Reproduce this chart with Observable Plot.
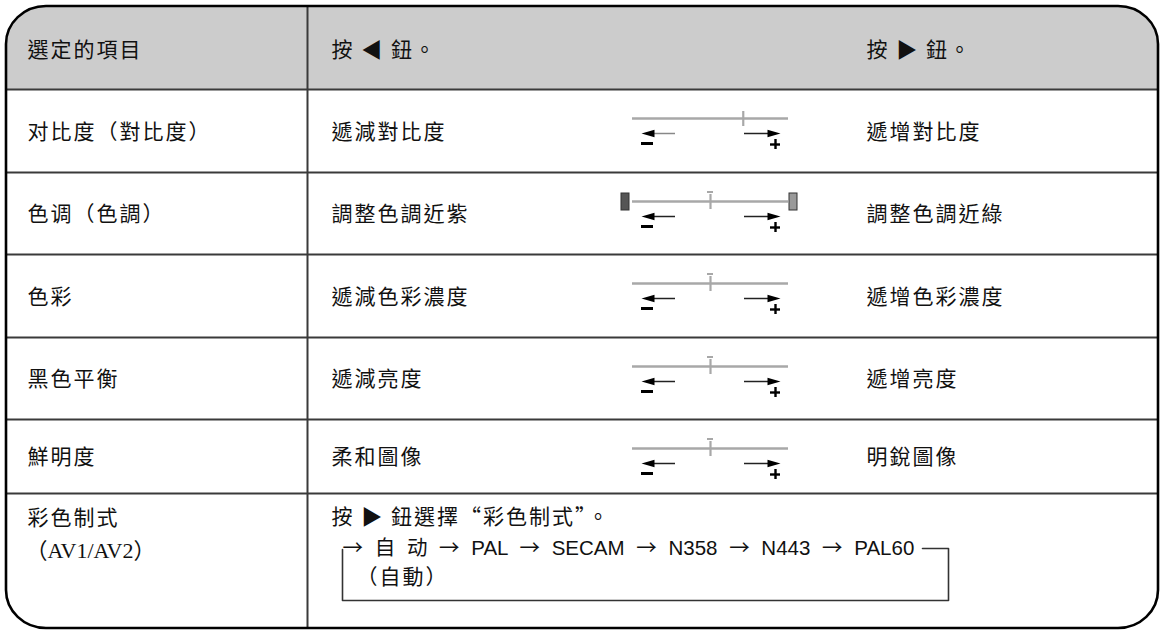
<!DOCTYPE html>
<html><head><meta charset="utf-8">
<script src="https://cdn.jsdelivr.net/npm/d3@7"></script>
<script src="https://cdn.jsdelivr.net/npm/@observablehq/plot@0.6"></script>
<style>body{margin:0;background:#fff}</style>
</head><body><div id="chart"></div>
<script>
// ---- table content ----
const headers = ["選定的項目", "按 ◀ 鈕。", "按 ▶ 鈕。"];
const items = ["对比度（對比度）", "色调（色調）", "色彩", "黑色平衡", "鮮明度"];
const decrease = ["遞減對比度", "調整色調近紫", "遞減色彩濃度", "遞減亮度", "柔和圖像"];
const increase = ["遞增對比度", "調整色調近綠", "遞增色彩濃度", "遞增亮度", "明銳圖像"];
const sliderMark = [0.71, 0.5, 0.5, 0.5, 0.5];
const sliderCapped = [false, true, true, true, true];
const sliderEnds = [false, true, false, false, false];
const lastItem = ["彩色制式", "（AV1/AV2）"];
const lastInstruction = "按 ▶ 鈕選擇“彩色制式”。";
const systems = ["自 动", "PAL", "SECAM", "N358", "N443", "PAL60"];
const systemsNote = "（自動）";

// ---- layout ----
const W = 1164, H = 630;
const box = {x1: 6, y1: 6, x2: 1158, y2: 628};
const colLine = 307;
const rowLines = [89, 172, 254, 337, 419, 493];
const colText = [27, 331, 866];
const cjk = "'Noto Sans CJK TC', sans-serif";
const fs = 21;

const rows = items.map((name, i) => {
  const top = rowLines[i], bottom = rowLines[i + 1];
  return {i, name, dec: decrease[i], inc: increase[i], top, bottom, cy: (top + bottom) / 2 + 1,
    yl: top + 29, mark: sliderMark[i], capped: sliderCapped[i], ends: sliderEnds[i]};
});
const sx = d3.scaleLinear([0, 1], [632, 788]);

const headRight = {draw(ctx) { ctx.moveTo(0, 0); ctx.lineTo(-13, -3.8); ctx.lineTo(-13, 3.8); ctx.closePath(); }};
const headLeft = {draw(ctx) { ctx.moveTo(0, 0); ctx.lineTo(13, -3.8); ctx.lineTo(13, 3.8); ctx.closePath(); }};

const flowText = "→ " + systems.join(" → ");
const fy = 548, fb = 600, fl = 342, fr = 948;
const bracket = [[fr - 26, fy], [fr, fy], [fr, fb], [fl, fb], [fl, fy + 1]];

const endBlocks = rows.filter(r => r.ends).flatMap(r => [
  {x1: 621, x2: 629, y1: r.yl - 8, y2: r.yl + 9, fill: "#555"},
  {x1: 789, x2: 797, y1: r.yl - 8, y2: r.yl + 9, fill: "#9a9a9a"}
]);

const svg = Plot.plot({
  width: W, height: H, margin: 0,
  x: {domain: [0, W], range: [0, W], axis: null},
  y: {domain: [0, H], range: [0, H], axis: null},
  style: {background: "white"},
  marks: [
    // header background
    Plot.rect([box], {x1: "x1", x2: "x2", y1: "y1", y2: d => rowLines[0] + 50, fill: "#cccccc", rx: 40, ry: 40}),
    Plot.rect([box], {x1: "x1", x2: "x2", y1: d => rowLines[0], y2: d => rowLines[0] + 60, fill: "white"}),
    // grid
    Plot.ruleY(rowLines, {x1: box.x1, x2: box.x2, y: d => d, stroke: "#3a3a3a", strokeWidth: 2}),
    Plot.ruleX([colLine], {x: d => d, y1: box.y1, y2: box.y2, stroke: "#3a3a3a", strokeWidth: 2}),
    // outer border
    Plot.rect([box], {x1: "x1", x2: "x2", y1: "y1", y2: "y2", fill: "none", stroke: "black", strokeWidth: 2.6, rx: 40, ry: 38}),
    // header text
    Plot.text(headers, {x: (d, i) => colText[i], y: (rowLines[0] + box.y1) / 2 + 2, text: d => d,
      textAnchor: "start", fontSize: fs, fontFamily: cjk, fill: "#111"}),
    // row texts
    Plot.text(rows, {x: colText[0], y: "cy", text: "name", textAnchor: "start", fontSize: fs, fontFamily: cjk, fill: "#111"}),
    Plot.text(rows, {x: colText[1], y: "cy", text: "dec", textAnchor: "start", fontSize: fs, fontFamily: cjk, fill: "#111"}),
    Plot.text(rows, {x: colText[2], y: "cy", text: "inc", textAnchor: "start", fontSize: fs, fontFamily: cjk, fill: "#111"}),
    // slider track
    Plot.ruleY(rows, {x1: d => sx(0), x2: d => sx(1), y: "yl", stroke: "#a8a8a8", strokeWidth: 2.5}),
    Plot.ruleX(rows, {x: d => sx(d.mark), y1: d => d.yl - 7, y2: d => d.yl + 8, stroke: "#a8a8a8", strokeWidth: 2.2}),
    Plot.ruleY(rows.filter(d => d.capped), {x1: d => sx(d.mark) - 3, x2: d => sx(d.mark) + 3, y: d => d.yl - 9.5, stroke: "#a8a8a8", strokeWidth: 2}),
    Plot.rect(endBlocks, {x1: "x1", x2: "x2", y1: "y1", y2: "y2", fill: "fill", stroke: "#333", strokeWidth: 1}),
    // arrows
    Plot.ruleY(rows, {x1: 652, x2: 675, y: d => d.yl + 15, stroke: d => d.i === 0 ? "#888" : "#222", strokeWidth: 1.5}),
    Plot.dot(rows, {x: 641, y: d => d.yl + 15, symbol: headLeft, fill: "black", stroke: "none"}),
    Plot.ruleY(rows, {x1: 744, x2: 770, y: d => d.yl + 15, stroke: "#222", strokeWidth: 1.5}),
    Plot.dot(rows, {x: 780, y: d => d.yl + 15, symbol: headRight, fill: "black", stroke: "none"}),
    // minus / plus
    Plot.ruleY(rows, {x1: 641, x2: 653, y: d => d.yl + 25, stroke: "black", strokeWidth: 3}),
    Plot.ruleY(rows, {x1: 770, x2: 780, y: d => d.yl + 26, stroke: "black", strokeWidth: 2.4}),
    Plot.ruleX(rows, {x: 775, y1: d => d.yl + 21, y2: d => d.yl + 31, stroke: "black", strokeWidth: 2.4}),
    // last row
    Plot.text([lastItem[0]], {x: colText[0], y: 518, text: d => d, textAnchor: "start", fontSize: fs, fontFamily: cjk, fill: "#111"}),
    Plot.text([lastItem[1]], {x: colText[0] - 2, y: 550, text: d => d, textAnchor: "start", fontSize: 22, fontFamily: "'Liberation Serif', 'Noto Sans CJK TC', serif", fill: "#111"}),
    Plot.text([lastInstruction], {x: colText[1], y: 517, text: d => d, textAnchor: "start", fontSize: fs, fontFamily: cjk, fill: "#111"}),
    Plot.text([flowText], {x: fl, y: fy, text: d => d, textAnchor: "start", fontSize: 20.5, fontFamily: "'Liberation Sans', 'Noto Sans CJK TC', sans-serif", fill: "#111"}),
    Plot.text([systemsNote], {x: fl + 14, y: 577, text: d => d, textAnchor: "start", fontSize: fs, fontFamily: cjk, fill: "#111"}),
    Plot.line(bracket, {x: d => d[0], y: d => d[1], stroke: "#333", strokeWidth: 1.6, curve: "linear"})
  ]
});
document.getElementById("chart").appendChild(svg);
d3.select(svg).selectAll("text").each(function () {
  const t = this.textContent;
  if (t.startsWith("→")) {
    // render arrows with the CJK font so they are as long as in the print
    const el = d3.select(this);
    el.text(null);
    el.style("word-spacing", "6px");
    t.split(/(→)/).filter(s => s.length).forEach(part => {
      const ts = el.append("tspan").text(part);
      if (part === "→") ts.attr("font-family", cjk);
    });
  } else if (!t.startsWith("（AV")) {
    this.style.letterSpacing = "2px";
  }
});
</script>
</body></html>
